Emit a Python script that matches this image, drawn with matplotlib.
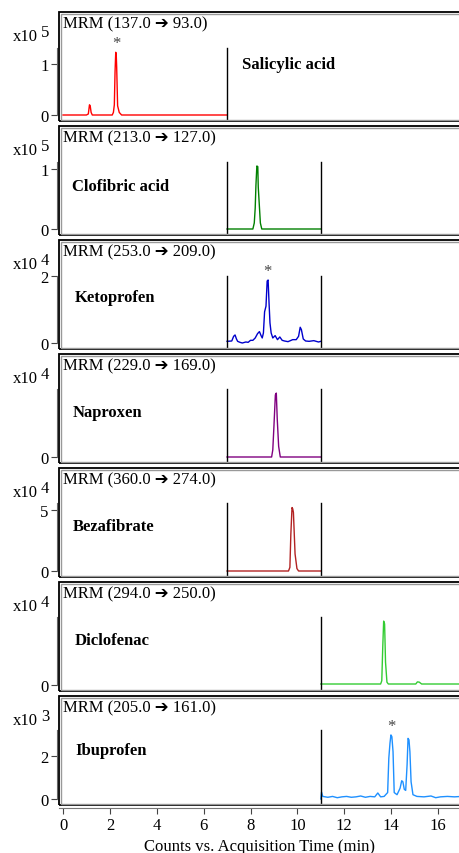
import matplotlib
matplotlib.use("Agg")
import matplotlib.pyplot as plt
from matplotlib.patches import Rectangle

plt.rcParams.update({
    'font.family': ['Liberation Serif', 'DejaVu Sans'],
    'font.size': 12,
})

# ---- data ----
names = ["Salicylic acid", "Clofibric acid", "Ketoprofen", "Naproxen",
         "Bezafibrate", "Diclofenac", "Ibuprofen"]
transitions = ["137.0 \u2794 93.0", "213.0 \u2794 127.0", "253.0 \u2794 209.0",
               "229.0 \u2794 169.0", "360.0 \u2794 274.0", "294.0 \u2794 250.0",
               "205.0 \u2794 161.0"]
exponents = [5, 5, 4, 4, 4, 4, 3]
colors = ["#ff0000", "#008000", "#0000cc", "#800080", "#b22222", "#33cc33", "#1e90ff"]
yticks = [[0, 1], [0, 1], [0, 2], [0], [0, 5], [0], [0, 2]]
segments = [[7], [7, 11], [7, 11], [7, 11], [7, 11], [11], [11]]
starred = [2.26, None, 8.73, None, None, None, 13.99]

salicylic_t = [0, 1.0, 1.08, 1.13, 1.16, 1.2, 1.25, 2.1, 2.15, 2.19, 2.22, 2.25, 2.27, 2.29,
               2.33, 2.4, 2.5, 7.0]
salicylic_y = [0, 0, 0.02, 0.2, 0.18, 0.05, 0, 0, 0.05, 0.2, 0.84, 1.23, 1.2, 0.94,
               0.18, 0.05, 0, 0]

clofibric_t = [7.0, 8.1, 8.16, 8.2, 8.23, 8.27, 8.31, 8.33, 8.36, 8.42, 8.48, 11.0]
clofibric_y = [0, 0, 0.1, 0.35, 0.72, 1.05, 1.04, 0.7, 0.5, 0.1, 0, 0]

ketoprofen_t = [7.0, 7.2, 7.28, 7.34, 7.4, 7.45, 7.55, 7.65, 7.8, 7.9, 8.0, 8.1, 8.2,
                8.3, 8.38, 8.45, 8.5, 8.55, 8.6, 8.66, 8.71, 8.75, 8.79, 8.83, 8.88,
                8.95, 9.05, 9.15, 9.25, 9.35, 9.45, 9.6, 9.8, 9.95, 10.05, 10.12,
                10.17, 10.25, 10.35, 10.5, 10.7, 10.9, 11.0]
ketoprofen_y = [0.05, 0.06, 0.2, 0.24, 0.12, 0.05, 0.02, 0.0, 0.03, 0.02, 0.08, 0.08, 0.15,
                0.28, 0.34, 0.22, 0.15, 0.3, 0.93, 1.1, 1.85, 1.88, 1.2, 0.6, 0.3,
                0.15, 0.22, 0.1, 0.18, 0.08, 0.06, 0.04, 0.1, 0.1, 0.2, 0.47,
                0.4, 0.12, 0.06, 0.05, 0.07, 0.03, 0.05]

naproxen_t = [7.0, 8.9, 8.95, 9.0, 9.06, 9.1, 9.14, 9.2, 9.27, 11.0]
naproxen_y = [0, 0, 0.2, 0.88, 1.75, 1.8, 1.07, 0.3, 0, 0]

bezafibrate_t = [7.0, 9.62, 9.68, 9.72, 9.77, 9.8, 9.83, 9.9, 9.98, 10.05, 11.0]
bezafibrate_y = [0, 0, 0.3, 3.0, 5.2, 5.1, 4.8, 1.4, 0.2, 0, 0]

diclofenac_t = [11.0, 13.55, 13.6, 13.64, 13.68, 13.72, 13.76, 13.82, 13.88, 15.05, 15.12,
                15.2, 15.3, 17.4]
diclofenac_y = [0.07, 0.07, 0.3, 2.6, 4.5, 4.3, 1.6, 0.2, 0.07, 0.07, 0.22,
                0.2, 0.07, 0.07]

ibuprofen_t = [11.0, 11.03, 11.08, 11.3, 11.5, 11.7, 11.9, 12.1, 12.3, 12.5, 12.7, 12.9,
               13.1, 13.3, 13.43, 13.55, 13.7, 13.85, 13.9, 13.95, 13.99, 14.03, 14.08,
               14.13, 14.25, 14.38, 14.45, 14.5, 14.56, 14.62, 14.68, 14.72, 14.76,
               14.8, 14.85, 14.93, 15.1, 15.4, 15.7, 15.9, 16.1, 16.4, 16.7, 17.0, 17.4]
ibuprofen_y = [0, 0.32, 0.12, 0.08, 0.12, 0.06, 0.1, 0.12, 0.08, 0.1, 0.14, 0.08,
               0.12, 0.1, 0.28, 0.1, 0.12, 0.3, 1.9, 2.6, 2.98, 2.9, 2.2,
               0.3, 0.2, 0.5, 0.85, 0.8, 0.45, 0.4, 1.6, 2.82, 2.75,
               2.2, 0.8, 0.2, 0.12, 0.1, 0.14, 0.06, 0.1, 0.12, 0.1, 0.12, 0.1]

traces = [(salicylic_t, salicylic_y), (clofibric_t, clofibric_y),
          (ketoprofen_t, ketoprofen_y), (naproxen_t, naproxen_y),
          (bezafibrate_t, bezafibrate_y), (diclofenac_t, diclofenac_y),
          (ibuprofen_t, ibuprofen_y)]
xticks = [0, 2, 4, 6, 8, 10, 12, 14, 16]

# ---- layout (pixels of a 460x854 figure) ----
W, H = 460, 854
panel_tops = [13, 127, 241, 355, 469, 583, 697]
panel_h = 109
left_px, right_px = 59, 472
# pixel position of y=0 and px per unit, per panel
zero_px = [116, 230, 344, 458, 572, 686, 800]
px_per_unit = [51, 60, 33.5, 35.5, 12.2, 14.2, 21.5]
name_dy = [52, 60, 57, 58, 58, 58, 54]
name_x = [242, 72, 75, 73, 73, 75, 75]
x0_px, px_per_min = 63, 23.44
aw = right_px - left_px

fig = plt.figure(figsize=(W / 100, H / 100), dpi=100)

for i in range(7):
    top = panel_tops[i]
    ax = fig.add_axes([left_px / W, 1 - (top + panel_h) / H, aw / W, panel_h / H])
    ax.set_xlim((left_px - x0_px) / px_per_min, (right_px - x0_px) / px_per_min)
    ylo = -(top + panel_h - zero_px[i]) / px_per_unit[i]
    yhi = (zero_px[i] - top) / px_per_unit[i]
    ax.set_ylim(ylo, yhi)

    t, y = traces[i]
    ax.plot(t, y, color=colors[i], lw=1.0)
    ymax = max(y)
    for s in segments[i]:
        ax.plot([s, s], [ylo, ymax * 1.07], color='black', lw=1.0)
    if starred[i] is not None:
        ax.text(starred[i], ymax + 1.0 / px_per_unit[i], '*', ha='center', va='bottom',
                fontsize=12, color='#444444')

    # frame: black outer line, gray inner line
    for sp in ['top', 'right', 'bottom']:
        ax.spines[sp].set_visible(False)
    ax.add_patch(Rectangle((0, 0), 1, 1, transform=ax.transAxes, fill=False,
                           ec='black', lw=1.3, clip_on=False, zorder=5))
    ax.add_patch(Rectangle((1.5 / aw, 1.5 / panel_h), 1, 1 - 3 / panel_h,
                           transform=ax.transAxes, fill=False,
                           ec='#999999', lw=1.0, clip_on=False, zorder=5))
    ax.spines['left'].set_position(('outward', 1.5))
    ax.spines['left'].set_bounds(0, max(ymax * 1.07, yticks[i][-1]))
    ax.spines['left'].set_color('#666666')
    ax.set_yticks(yticks[i])
    ax.tick_params(axis='y', length=4, color='#444444', labelsize=12, pad=2)

    ax.text(4 / aw, 1 - 11 / panel_h, "MRM (" + transitions[i] + ")",
            transform=ax.transAxes, ha='left', va='center', fontsize=12)
    ax.text((name_x[i] - left_px) / aw, 1 - name_dy[i] / panel_h, names[i],
            transform=ax.transAxes, ha='left', va='center', fontsize=12, fontweight='bold')

    fig.text(13 / W, 1 - (top + 24) / H, "x10", ha='left', va='center', fontsize=12)
    fig.text(41 / W, 1 - (top + 20) / H, str(exponents[i]), ha='left', va='center',
             fontsize=12)

    ax.set_xticks(xticks)
    if i < 6:
        ax.tick_params(axis='x', length=0, labelbottom=False)
    else:
        ax.tick_params(axis='x', length=4, color='#444444', labelsize=12, pad=3)
        ax.spines['bottom'].set_visible(True)
        ax.spines['bottom'].set_position(('outward', 2))
        ax.spines['bottom'].set_color('#777777')
        ax.set_xlabel("Counts vs. Acquisition Time (min)", fontsize=12)
        ax.xaxis.set_label_coords((260 - left_px) / aw, -0.305)

fig.savefig("out.png", dpi=100)
